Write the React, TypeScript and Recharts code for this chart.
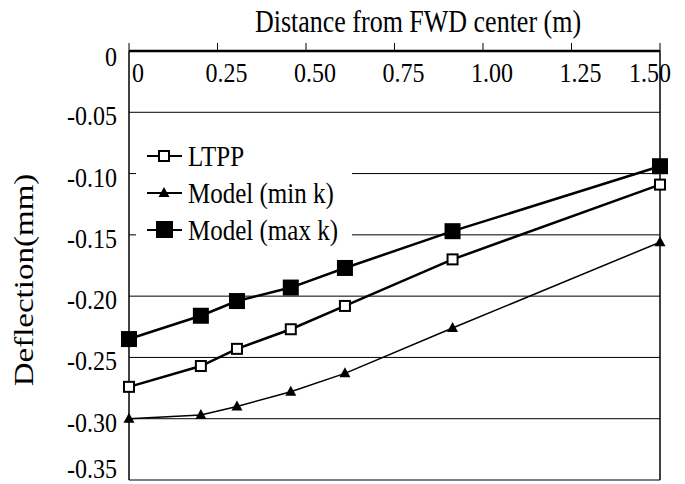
import React from "react";
import {CartesianGrid, Legend, Line, LineChart, ReferenceLine, XAxis, YAxis} from "recharts";

// FWD sensor offsets (m) and deflections (mm)
const distances = [0, 0.203, 0.305, 0.457, 0.61, 0.914, 1.5];
const ltpp = [-0.274, -0.257, -0.243, -0.227, -0.208, -0.17, -0.109];
const modelMinK = [-0.3, -0.297, -0.29, -0.278, -0.263, -0.226, -0.156];
const modelMaxK = [-0.235, -0.216, -0.204, -0.193, -0.177, -0.147, -0.094];

const seriesNames = ["LTPP", "Model (min k)", "Model (max k)"];

const xTicks = [0, 0.25, 0.5, 0.75, 1, 1.25, 1.5];
const xTickLabels = ["0", "0.25", "0.50", "0.75", "1.00", "1.25", "1.50"];
const yTicks = [0, -0.05, -0.1, -0.15, -0.2, -0.25, -0.3, -0.35];
const yTickLabels = ["0", "-0.05", "-0.10", "-0.15", "-0.20", "-0.25", "-0.30", "-0.35"];

const FONT = '"Liberation Serif", "Times New Roman", serif';
// the scanned original has tall, narrow type
const STRETCH = 1.18;

const data = distances.map((d, i) => ({
    d,
    ltpp: ltpp[i],
    minK: modelMinK[i],
    maxK: modelMaxK[i]
}));

const OpenSquare = (props: any) => {
    const {cx, cy, index} = props;
    if (cx == null || cy == null) return null;
    return <rect key={"o" + index} x={cx - 5} y={cy - 5} width={10} height={10} fill="#fff" stroke="#000" strokeWidth={2}/>;
};

const Triangle = (props: any) => {
    const {cx, cy, index} = props;
    if (cx == null || cy == null) return null;
    return <path key={"t" + index} d={`M${cx},${cy - 6} L${cx + 5.5},${cy + 4} L${cx - 5.5},${cy + 4} Z`} fill="#000"/>;
};

const FilledSquare = (props: any) => {
    const {cx, cy, index} = props;
    if (cx == null || cy == null) return null;
    return <rect key={"f" + index} x={cx - 8} y={cy - 8} width={16} height={16} fill="#000"/>;
};

const XTick = (props: any) => {
    const {x, payload} = props;
    const i = xTicks.indexOf(payload.value);
    const last = i === xTicks.length - 1;
    return (
        <text transform={`translate(${x + (last ? -10 : 9)},82) scale(1,${STRETCH})`} textAnchor="middle"
              fontSize={24} fontFamily={FONT} fill="#000">
            {xTickLabels[i]}
        </text>
    );
};

const YTick = (props: any) => {
    const {y, payload} = props;
    const i = yTicks.indexOf(payload.value);
    let dy = 13;
    if (i === 0) dy = 15;
    if (i === yTicks.length - 1) dy = 3;
    return (
        <text transform={`translate(117,${y + dy}) scale(1,${STRETCH})`} textAnchor="end" fontSize={24}
              fontFamily={FONT} fill="#000">
            {yTickLabels[i]}
        </text>
    );
};

const legendMarkers = [
    <rect x={12} y={8} width={10} height={10} fill="#fff" stroke="#000" strokeWidth={2}/>,
    <path d="M17,7 L22.5,17 L11.5,17 Z" fill="#000"/>,
    <rect x={9} y={4} width={17} height={17} fill="#000"/>
];

const LegendBox = () => (
    <div style={{background: "#fff", padding: "4px 0 8px 11px", fontFamily: FONT, fontSize: 25}}>
        {seriesNames.map((name, i) => (
            <div key={name} style={{display: "flex", alignItems: "center", height: 37}}>
                <svg width={36} height={25} style={{marginRight: 5}}>
                    <line x1={0} y1={13} x2={35} y2={13} stroke="#000" strokeWidth={2}/>
                    {legendMarkers[i]}
                </svg>
                <span style={{lineHeight: "37px", display: "inline-block", transform: `scaleY(${STRETCH})`}}>
                    {name}
                </span>
            </div>
        ))}
    </div>
);

const DeflectionChart = () => {
    return (
        <div style={{position: "absolute", left: 0, top: 0, background: "#fff"}}>
            <LineChart width={685} height={484} data={data} margin={{top: 21, right: 25, bottom: 4, left: 0}}>
                <CartesianGrid vertical={false} stroke="#000" strokeWidth={1}/>
                <XAxis
                    dataKey="d"
                    type="number"
                    orientation="top"
                    domain={[0, 1.5]}
                    ticks={xTicks}
                    height={30}
                    tickSize={8}
                    tick={<XTick/>}
                    axisLine={{stroke: "#000", strokeWidth: 2.5}}
                    tickLine={{stroke: "#000", strokeWidth: 1}}
                    label={{
                        content: () => (
                            <text transform={`translate(418,32) scale(1,${STRETCH})`} textAnchor="middle"
                                  fontSize={26} fontFamily={FONT} fill="#000">
                                Distance from FWD center (m)
                            </text>
                        )
                    }}
                />
                <YAxis
                    type="number"
                    domain={[-0.35, 0]}
                    ticks={yTicks}
                    width={129}
                    tickLine={false}
                    tick={<YTick/>}
                    axisLine={{stroke: "#000", strokeWidth: 1.5}}
                    label={{
                        content: () => (
                            <text transform={`translate(24,280) rotate(-90) scale(${STRETCH},1)`} textAnchor="middle"
                                  dominantBaseline="central" fontSize={28} fontFamily={FONT} fill="#000">
                                Deflection(mm)
                            </text>
                        )
                    }}
                />
                <ReferenceLine x={1.5} stroke="#000" strokeWidth={1.5}/>
                <Legend
                    layout="vertical"
                    align="center"
                    verticalAlign="middle"
                    content={<LegendBox/>}
                    wrapperStyle={{left: 136, top: 133, width: 216}}
                />
                <Line dataKey="minK" name={seriesNames[1]} stroke="#000" strokeWidth={1.5} dot={Triangle}
                      isAnimationActive={false}/>
                <Line dataKey="ltpp" name={seriesNames[0]} stroke="#000" strokeWidth={2.5} dot={OpenSquare}
                      isAnimationActive={false}/>
                <Line dataKey="maxK" name={seriesNames[2]} stroke="#000" strokeWidth={2.5} dot={FilledSquare}
                      isAnimationActive={false}/>
            </LineChart>
        </div>
    );
};

export default DeflectionChart;
